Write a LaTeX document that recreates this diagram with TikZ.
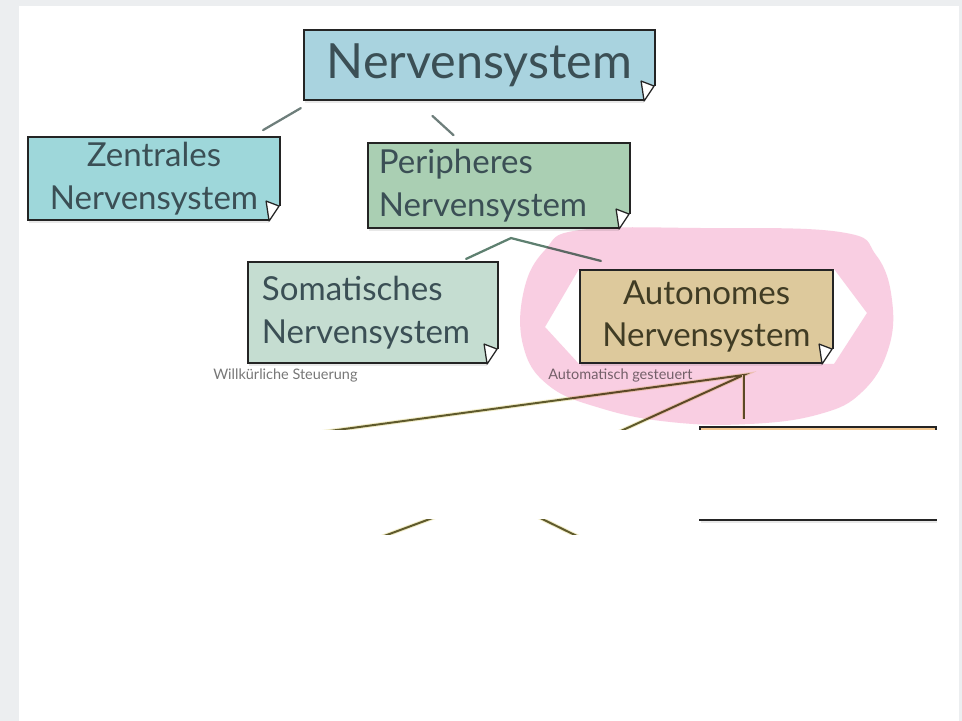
\documentclass[tikz,border=0pt]{standalone}
\usepackage{fontspec}
\setmainfont{Lato}
\usetikzlibrary{positioning,shadows}

\definecolor{bgGrey}{HTML}{ECEEF0}
\definecolor{rootBlue}{HTML}{A9D3DF}
\definecolor{zBlue}{HTML}{9ED7DA}
\definecolor{pGreen}{HTML}{AACFB3}
\definecolor{sGreen}{HTML}{C5DDD1}
\definecolor{aSand}{HTML}{DDC99C}
\definecolor{oPeach}{HTML}{F4C890}
\definecolor{inkSlate}{HTML}{3B4F55}
\definecolor{inkOlive}{HTML}{403C24}
\definecolor{edgeInk}{HTML}{242424}
\definecolor{linkGrey}{HTML}{6E7E7B}
\definecolor{linkGreen}{HTML}{5E8070}
\definecolor{linkOlive}{HTML}{5F5A2C}
\definecolor{glowYellow}{HTML}{F2EDC8}
\definecolor{notePink}{HTML}{F9CEE2}
\definecolor{noteGrey}{HTML}{777777}

\tikzset{
	box/.style={draw=edgeInk, line width=1.5pt, inner sep=0pt,
		drop shadow={opacity=0.18, shadow xshift=0.03cm, shadow yshift=-0.08cm}},
	bigtext/.style={font=\fontsize{34.5}{40}\selectfont, text=inkSlate},
	midtext/.style={font=\fontsize{23.5}{30.5}\selectfont, text=inkSlate},
	link/.style={draw=linkGrey, line width=1.6pt, line cap=round},
	forkline/.style={draw=linkGreen, line width=1.6pt, line cap=round},
	branch/.style={draw=linkOlive, line width=1.4pt, preaction={draw=glowYellow, line width=2.8pt}},
	curlflap/.style={draw=edgeInk, line width=0.9pt, fill=white, line join=round},
	note/.style={font=\fontsize{10.3}{12}\selectfont, text=noteGrey, inner sep=0pt, anchor=west},
}

\newcommand{\pagecurl}[1]{%
	\fill[white] ([xshift=-0.05cm,yshift=0.375cm]#1.south east) -- ([xshift=-0.3cm]#1.south east)
		-- ([xshift=-0.3cm,yshift=-0.1cm]#1.south east) -- ([xshift=0.1cm,yshift=-0.1cm]#1.south east)
		-- ([xshift=0.1cm,yshift=0.375cm]#1.south east) -- cycle;
	\draw[curlflap] ([xshift=-0.05cm,yshift=0.375cm]#1.south east) -- ([xshift=-0.375cm,yshift=0.5cm]#1.south east)
		-- ([xshift=-0.3cm]#1.south east) -- cycle;
}

\begin{document}
\begin{tikzpicture}[x=0.025cm, y=-0.025cm]
	\useasboundingbox (0,0) rectangle (962,721);
	\fill[bgGrey] (0,0) rectangle (962,721);
	\fill[white] (19,6) rectangle (958.5,721);

	\node[box, fill=rootBlue, bigtext, minimum width=8.775cm, minimum height=1.75cm] (root) at (479.5,65) {Nervensystem};
	\node[box, fill=zBlue, midtext, align=center, minimum width=6.3cm, minimum height=2.075cm] (zns) at (154,178.5) {Zentrales\\Nervensystem};
	\node[box, fill=pGreen, midtext, align=left, text width=6.0cm, inner xsep=0.275cm, minimum height=2.125cm] (pns) at (499,185.5) {Peripheres\\Nervensystem};
	\node[box, fill=sGreen, midtext, align=left, text width=5.55cm, inner xsep=0.35cm, minimum height=2.525cm] (sns) at (373,312.5) {Somatisches\\Nervensystem};
	\node[box, fill=aSand, midtext, text=inkOlive, align=center, minimum width=6.325cm, minimum height=2.325cm] (ans) at (706.5,316.5) {Autonomes\\Nervensystem};
	\node[box, fill=oPeach, minimum width=5.9cm, minimum height=2.325cm] (third) at (818,473.5) {};

	\pagecurl{root}
	\pagecurl{zns}
	\pagecurl{pns}
	\pagecurl{sns}
	\pagecurl{ans}

	\node[note] (willk) at (213,375) {Willkürliche Steuerung};
	\node[note] (autom) at (548,375) {Automatisch gesteuert};

	\draw[link, shorten <=0.35cm, shorten >=0.29cm] ([xshift=0.25cm]root.south west) -- ([xshift=-0.7cm]zns.north east);
	\draw[link, shorten <=0.55cm, shorten >=0.25cm] ([xshift=2.83cm]root.south west) -- ([xshift=2.35cm]pns.north west);

	\coordinate (pfork) at ([xshift=0.3cm,yshift=-0.225cm]pns.south);
	\draw[forkline] ([xshift=-0.825cm,yshift=0.05cm]sns.north east) -- (pfork) -- ([xshift=0.55cm,yshift=0.2cm]ans.north west);

	\coordinate (afork) at ([xshift=0.925cm,yshift=-0.275cm]ans.south);
	\coordinate (acutL) at (263,440);
	\coordinate (acutM) at (601,440);
	\draw[branch] (acutL) -- (afork) -- (acutM);
	\draw[branch, shorten >=0.175cm] (afork) -- (afork |- third.north);

	\coordinate (lowA1) at (446,513);
	\coordinate (lowA2) at (376,539);
	\coordinate (lowB1) at (530,513);
	\coordinate (lowB2) at (583,539);
	\draw[branch] (lowA1) -- (lowA2);
	\draw[branch] (lowB1) -- (lowB2);

	\fill[notePink, even odd rule, blend mode=multiply]
		plot[smooth cycle, tension=0.7] coordinates {(580,230) (700,228) (840,232) (876,255) (892,300) (888,350) (862,392) (820,414) (750,424) (670,422) (600,408) (548,385) (523,345) (524,290) (545,250)}
		(579,269) -- (834,269) -- (867,313) -- (834,364) -- (579,364) -- (545,327) -- cycle;

	\fill[white] (19,430.5) rectangle (958.5,519);
	\fill[white] (19,535) rectangle (958.5,721);
\end{tikzpicture}
\end{document}
